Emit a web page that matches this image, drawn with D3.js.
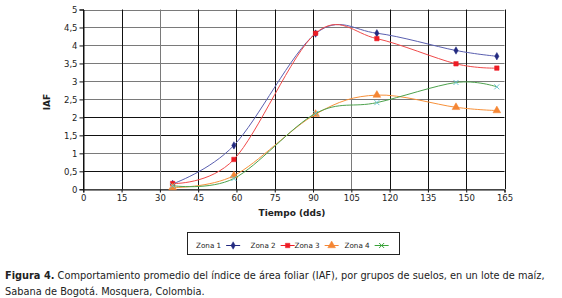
<!DOCTYPE html>
<html>
<head>
<meta charset="utf-8">
<script src="https://cdn.jsdelivr.net/npm/d3@7/dist/d3.min.js"></script>
<style>
  body { margin: 0; background: #fff; }
  svg { display: block; font-family: "DejaVu Sans", Verdana, sans-serif; }
</style>
</head>
<body>
<div id="chart"></div>
<script>
// Datos
const dias = [35, 59, 91, 115, 146, 162];
const zona1 = [0.15, 1.22, 4.33, 4.34, 3.86, 3.70];
const zona2 = [0.16, 0.83, 4.34, 4.19, 3.49, 3.37];
const zona3 = [0.05, 0.38, 2.09, 2.62, 2.28, 2.19];
const zona4 = [0.10, 0.30, 2.11, 2.41, 2.97, 2.85];
const zonas = ["Zona 1", "Zona 2", "Zona 3", "Zona 4"];
const xTicks = [0, 15, 30, 45, 60, 75, 90, 105, 120, 135, 150, 165];
const yTicks = [0, 0.5, 1, 1.5, 2, 2.5, 3, 3.5, 4, 4.5, 5];

const W = 562, H = 298;
const svg = d3.select("#chart").append("svg")
    .attr("width", W).attr("height", H);
svg.append("rect").attr("width", W).attr("height", H).attr("fill", "#fff");

const x = d3.scaleLinear().domain([0, 165]).range([83.3, 504.5]);
const y = d3.scaleLinear().domain([0, 5]).range([189.3, 9.5]);

// líneas de cuadrícula (la imagen original tiene unas más claras que otras)
const yClaras = new Set([0, 1, 2.5, 3, 3.5, 4, 4.5, 5]);
const xClaras = new Set([30, 105]);

svg.append("g").selectAll("line")
    .data(yTicks).enter().append("line")
    .attr("x1", x(0)).attr("x2", x(165))
    .attr("y1", d => Math.round(y(d)) + 0.5).attr("y2", d => Math.round(y(d)) + 0.5)
    .attr("stroke", d => yClaras.has(d) ? "#7a7a7a" : "#111")
    .attr("stroke-width", 1);

svg.append("g").selectAll("line")
    .data(xTicks).enter().append("line")
    .attr("y1", y(0)).attr("y2", y(5))
    .attr("x1", d => Math.round(x(d)) + 0.5).attr("x2", d => Math.round(x(d)) + 0.5)
    .attr("stroke", d => xClaras.has(d) ? "#7a7a7a" : "#111")
    .attr("stroke-width", 1);

// ejes
const ejeY = svg.append("g")
    .attr("transform", `translate(${Math.round(x(0)) + 0.5},0)`)
    .call(d3.axisLeft(y).tickValues(yTicks).tickSize(4).tickPadding(2)
        .tickFormat(d => String(d).replace(".", ",")));
const ejeX = svg.append("g")
    .attr("transform", `translate(0,${Math.round(y(0)) + 0.5})`)
    .call(d3.axisBottom(x).tickValues(xTicks).tickSize(3).tickPadding(2));
[ejeY, ejeX].forEach(g => {
    g.select(".domain").attr("stroke", "#111");
    g.selectAll(".tick line").attr("stroke", "#111");
    g.selectAll("text").style("font-size", "8.5px")
        .style("font-family", "'DejaVu Sans', Verdana, sans-serif").attr("fill", "#222");
});

svg.append("text")
    .attr("x", 292).attr("y", 216)
    .attr("text-anchor", "middle")
    .style("font-size", "9px").style("font-weight", "bold").attr("fill", "#222")
    .text("Tiempo (dds)");

svg.append("text")
    .attr("transform", "translate(50,102) rotate(-90)")
    .attr("text-anchor", "middle")
    .style("font-size", "9px").style("font-weight", "bold").attr("fill", "#222")
    .text("IAF");

// series
const series = [
    { nombre: zonas[0], valores: zona1, linea: "#5a5fb0", marca: "#232a80", simbolo: d3.symbolDiamond, tam: 16 },
    { nombre: zonas[1], valores: zona2, linea: "#f04a4a", marca: "#ee1c25", simbolo: d3.symbolSquare, tam: 20 },
    { nombre: zonas[2], valores: zona3, linea: "#f7913a", marca: "#f58634", simbolo: d3.symbolTriangle, tam: 26 },
    { nombre: zonas[3], valores: zona4, linea: "#4da24d", marca: "#6cc6d0", simbolo: d3.symbolX, tam: 18 }
];

const linea = d3.line()
    .x(d => x(d[0])).y(d => y(d[1]))
    .curve(d3.curveCardinal.tension(0));

series.forEach(s => {
    const pts = dias.map((d, i) => [d, s.valores[i]]);
    svg.append("path")
        .datum(pts)
        .attr("fill", "none")
        .attr("stroke", s.linea)
        .attr("stroke-width", 1)
        .attr("d", linea);
    svg.append("g").selectAll("path")
        .data(pts).enter().append("path")
        .attr("transform", d => `translate(${x(d[0])},${y(d[1])})`)
        .attr("d", d3.symbol().type(s.simbolo).size(s.tam))
        .attr("fill", s.simbolo === d3.symbolX ? "none" : s.marca)
        .attr("stroke", s.marca)
        .attr("stroke-width", s.simbolo === d3.symbolX ? 1 : 0.5);
});

// leyenda
const leyenda = svg.append("g");
leyenda.append("rect")
    .attr("x", 187.5).attr("y", 232.5).attr("width", 212).attr("height", 22)
    .attr("fill", "#fff").attr("stroke", "#222").attr("stroke-width", 1);

const posLeyenda = [196, 250.5, 294.5, 344.5];
series.forEach((s, i) => {
    const tx = posLeyenda[i];
    const t = leyenda.append("text")
        .attr("x", tx).attr("y", 248)
        .style("font-size", "7.2px").attr("fill", "#222")
        .text(s.nombre);
    const w = t.node().getComputedTextLength();
    const sx = tx + w + 5;
    const leyX = i === 3 ? "#3aa33a" : s.marca;
    leyenda.append("line")
        .attr("x1", sx).attr("x2", sx + 14)
        .attr("y1", 245.5).attr("y2", 245.5)
        .attr("stroke", leyX).attr("stroke-width", 1);
    leyenda.append("path")
        .attr("transform", `translate(${sx + 7},245.5)`)
        .attr("d", d3.symbol().type(s.simbolo).size(s.tam))
        .attr("fill", s.simbolo === d3.symbolX ? "none" : leyX)
        .attr("stroke", leyX)
        .attr("stroke-width", s.simbolo === d3.symbolX ? 1 : 0.5);
});

// pie de figura
const pie = svg.append("text")
    .style("font-size", "9.8px").attr("fill", "#222");
const l1 = pie.append("tspan").attr("x", 5).attr("y", 279);
l1.append("tspan").style("font-weight", "bold").text("Figura 4.");
l1.append("tspan").text(" Comportamiento promedio del índice de área foliar (IAF), por grupos de suelos, en un lote de maíz,");
pie.append("tspan").attr("x", 5).attr("y", 295)
    .text("Sabana de Bogotá. Mosquera, Colombia.");
</script>
</body>
</html>
